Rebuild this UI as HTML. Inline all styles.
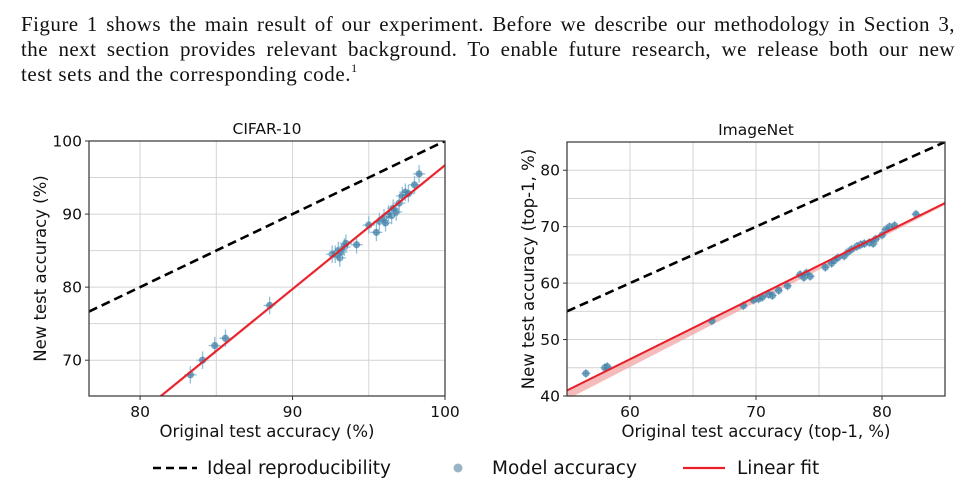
<!DOCTYPE html>
<html><head><meta charset="utf-8"><style>
body{margin:0;width:971px;height:488px;background:#fff;overflow:hidden;position:relative}
#para{position:absolute;left:21px;top:12px;width:934px;font-family:"Liberation Serif",serif;font-size:21px;color:#111}
#para div{height:25px;line-height:25px;text-align:justify;text-align-last:justify;white-space:nowrap;letter-spacing:0.45px}
#para div.last{text-align-last:left;letter-spacing:0.6px}
#para sup{font-size:12px;vertical-align:baseline;position:relative;top:-9px}
svg{position:absolute;left:0;top:0}
text{font-family:"DejaVu Sans","Liberation Sans",sans-serif;fill:#111}
</style></head><body>
<div id="para">
<div>Figure 1 shows the main result of our experiment. Before we describe our methodology in Section 3,</div>
<div>the next section provides relevant background. To enable future research, we release both our new</div>
<div class="last">test sets and the corresponding code.<sup>1</sup></div>
</div>
<svg id="fig" width="971" height="488"></svg>
<script>
const cifarX=[83.3,84.1,84.9,85.6,88.5,92.6,92.8,93,93.1,93.2,93.4,93.5,94.2,95,95.5,95.7,96,96.1,96.3,96.5,96.6,96.8,97,97.2,97.4,97.6,98,98.3];
const cifarY=[68,70,72,73,77.5,84.5,84.5,85,84,84.8,85.5,86,85.8,88.5,87.5,89,89.5,88.8,90,89.8,90.8,90.3,91.5,92.5,93,92.8,94,95.5];
const cifarFit=[1.695,-72.8];
const cifarXTicks=[80,90,100];
const cifarYTicks=[70,80,90,100];
const imnX=[56.5,58,58.2,66.5,69,69.8,70.2,70.5,71,71.3,71.8,72.5,73.5,73.8,74,74.3,75.5,76,76.2,76.5,77,77.3,77.6,78,78.3,78.6,79,79.3,79.5,80,80.3,80.6,81,82.7];
const imnY=[44,45,45.2,53.3,56,57,57.2,57.5,58,57.8,58.7,59.5,61.5,61,61.8,61.2,62.8,63.5,64,64.5,64.8,65.5,66,66.5,66.8,67,67.2,67,67.8,68.5,69.5,70,70.2,72.2];
const imnFit=[1.107,-19.9];
const imnXTicks=[60,70,80];
const imnYTicks=[40,50,60,70,80];
const NS='http://www.w3.org/2000/svg';
const svg=document.getElementById('fig');
function el(t,a,p){const e=document.createElementNS(NS,t);for(const k in a)e.setAttribute(k,a[k]);(p||svg).appendChild(e);return e;}
function panel(o){
  const g=el('g',{});
  
  
  const sx=v=>o.x0+(v-o.xmin)/(o.xmax-o.xmin)*(o.x1-o.x0);
  const sy=v=>o.y1-(v-o.ymin)/(o.ymax-o.ymin)*(o.y1-o.y0);
  const clip=el('clipPath',{id:'c'+o.name},g);
  el('rect',{x:o.x0,y:o.y0,width:o.x1-o.x0,height:o.y1-o.y0},clip);
  for(let v=Math.ceil(o.xmin/5)*5;v<=o.xmax;v+=5){const l=el('line',{x1:sx(v),x2:sx(v),y1:o.y0,y2:o.y1,stroke:'#d4d4d4','stroke-width':1},g);}
  for(let v=Math.ceil(o.ymin/5)*5;v<=o.ymax;v+=5){const l=el('line',{x1:o.x0,x2:o.x1,y1:sy(v),y2:sy(v),stroke:'#d4d4d4','stroke-width':1},g);}
  const cg=el('g',{'clip-path':'url(#c'+o.name+')'},g);
  const id=el('line',{x1:sx(o.xmin),y1:sy(o.xmin),x2:sx(o.xmax),y2:sy(o.xmax),stroke:'#000','stroke-width':2.6,'stroke-dasharray':'9,5'},cg);
  
  const f=v=>o.fit[0]*v+o.fit[1];
  const band=el('polygon',{points:`${sx(o.xmin)},${sy(f(o.xmin))-1} ${sx(o.xmax)},${sy(f(o.xmax))-1} ${sx(o.xmax)},${sy(f(o.xmax))+2} ${sx(o.xmin)},${sy(f(o.xmin))+o.band}`,fill:'#f2a0a0',opacity:0.7},cg);
  
  o.xs.forEach((x,i)=>{const y=o.ys[i];
    const pg=el('g',{},cg);
    
    el('line',{x1:sx(x-o.ex),x2:sx(x+o.ex),y1:sy(y),y2:sy(y),stroke:'#8fbfd8','stroke-width':1.3},pg);
    el('line',{x1:sx(x),x2:sx(x),y1:sy(y-o.ey),y2:sy(y+o.ey),stroke:'#8fbfd8','stroke-width':1.3},pg);
    el('circle',{cx:sx(x),cy:sy(y),r:3.6,fill:'#3d7ba3','fill-opacity':0.7},pg);
  });
  const fl=el('line',{x1:sx(o.xmin),y1:sy(f(o.xmin)),x2:sx(o.xmax),y2:sy(f(o.xmax)),stroke:'#e8202a','stroke-width':2},cg);
  
  const fr=el('rect',{x:o.x0,y:o.y0,width:o.x1-o.x0,height:o.y1-o.y0,fill:'none',stroke:'#333','stroke-width':1.2},g);
  
  o.xt.forEach(v=>{el('line',{x1:sx(v),x2:sx(v),y1:o.y1,y2:o.y1+4,stroke:'#333'},g);const t=el('text',{x:sx(v),y:o.y1+21,'text-anchor':'middle','font-size':15.5},g);t.textContent=v;});
  o.yt.forEach(v=>{el('line',{x1:o.x0-4,x2:o.x0,y1:sy(v),y2:sy(v),stroke:'#333'},g);const t=el('text',{x:o.x0-7,y:sy(v)+5.5,'text-anchor':'end','font-size':15.5},g);t.textContent=v;});
  const tt=el('text',{x:(o.x0+o.x1)/2,y:o.y0-7,'text-anchor':'middle','font-size':15.5},g);tt.textContent=o.title;
  
  const xl=el('text',{x:(o.x0+o.x1)/2,y:o.y1+41,'text-anchor':'middle','font-size':16.5},g);xl.textContent=o.xlab;
  
  const cy=(o.y0+o.y1)/2;
  const yl=el('text',{x:o.ylx,y:cy,'text-anchor':'middle','font-size':16.5,transform:`rotate(-90 ${o.ylx} ${cy})`},g);yl.textContent=o.ylab;
  
}
panel({name:'cifar',x0:89,x1:445,y0:141,y1:396,xmin:76.65,xmax:100,ymin:65.1,ymax:100,xs:cifarX,ys:cifarY,fit:cifarFit,xt:cifarXTicks,yt:cifarYTicks,ex:0.4,ey:1.2,band:2,title:'CIFAR-10',xlab:'Original test accuracy (%)',ylab:'New test accuracy (%)',ylx:46});
panel({name:'imagenet',x0:567,x1:945,y0:142,y1:396,xmin:55,xmax:85,ymin:40,ymax:85,xs:imnX,ys:imnY,fit:imnFit,xt:imnXTicks,yt:imnYTicks,ex:0.35,ey:0.8,band:9,title:'ImageNet',xlab:'Original test accuracy (top-1, %)',ylab:'New test accuracy (top-1, %)',ylx:534});
const lg=el('g',{});

el('line',{x1:153,x2:197,y1:468,y2:468,stroke:'#000','stroke-width':2.6,'stroke-dasharray':'8,5'},lg);
let t=el('text',{x:207,y:474,'font-size':18.5},lg);t.textContent='Ideal reproducibility';

el('circle',{cx:458,cy:468,r:4.5,fill:'#9ab4c6'},lg);
t=el('text',{x:492,y:474,'font-size':18.5},lg);t.textContent='Model accuracy';

el('line',{x1:683,x2:725,y1:468,y2:468,stroke:'#e8202a','stroke-width':2.2},lg);
t=el('text',{x:737,y:474,'font-size':18.5},lg);t.textContent='Linear fit';

</script>
</body></html>
